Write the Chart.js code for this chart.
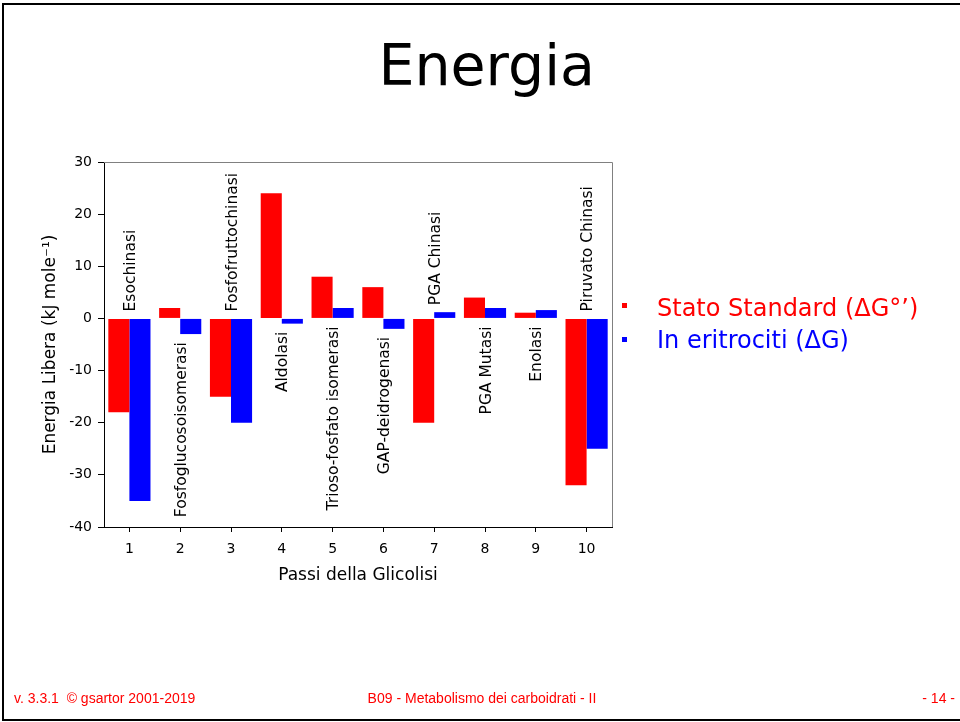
<!DOCTYPE html>
<html lang="it">
<head>
<meta charset="utf-8">
<title>Energia</title>
<script src="https://cdn.jsdelivr.net/npm/chart.js@4.4.1/dist/chart.umd.min.js"></script>
<style>
  html, body { margin: 0; padding: 0; background: #fff; }
  #slide { position: relative; width: 960px; height: 722px; overflow: hidden; background: #fff;
           font-family: "DejaVu Sans", Verdana, sans-serif; }
  #frame { position: absolute; left: 2px; top: 3px; width: 1000px; height: 714px; border: 2px solid #000; }
  #title { position: absolute; left: 486.7px; top: 37px; transform: translateX(-50%);
           font-size: 57px; line-height: 57px; color: #000; white-space: nowrap; }
  #chartBox { position: absolute; left: 0; top: 0; width: 960px; height: 722px; }
  .legend { position: absolute; left: 657px; font-size: 24px; line-height: 24px; white-space: nowrap; }
  .bullet { position: absolute; left: 622px; width: 5px; height: 5px; }
  .foot { position: absolute; top: 691px; font-family: "Liberation Sans", Arial, sans-serif;
          font-size: 14px; line-height: 14px; color: #f00; white-space: nowrap; }
</style>
</head>
<body>
<div id="slide">
  <div id="frame"></div>
  <div id="title">Energia</div>
  <div id="chartBox"><canvas id="chart" width="960" height="722"></canvas></div>

  <div class="bullet" style="top:303px;background:#f00"></div>
  <div class="legend" style="top:296px;color:#f00">Stato Standard (ΔG°’)</div>
  <div class="bullet" style="top:337px;background:#00f"></div>
  <div class="legend" style="top:328px;color:#00f">In eritrociti (ΔG)</div>

  <div class="foot" style="left:14px">v. 3.3.1&nbsp; © gsartor 2001-2019</div>
  <div class="foot" style="left:482px;transform:translateX(-50%)">B09 - Metabolismo dei carboidrati - II</div>
  <div class="foot" style="right:5px">- 14 -</div>
</div>

<script>
// Glycolysis steps and the enzyme that catalyses each one
const steps = ['1', '2', '3', '4', '5', '6', '7', '8', '9', '10'];
const enzymes = ['Esochinasi', 'Fosfoglucosoisomerasi', 'Fosfofruttochinasi', 'Aldolasi',
                 'Trioso-fosfato isomerasi', 'GAP-deidrogenasi', 'PGA Chinasi', 'PGA Mutasi',
                 'Enolasi', 'Piruvato Chinasi'];

// Free energy change of each step, kJ/mol
const standardDG    = [-18, 2, -15, 24, 8, 6, -20, 4, 1.1, -32];   // ΔG°'
const erythrocyteDG = [-35, -3, -20, -1, 2, -2, 1.2, 2, 1.6, -25]; // ΔG in red blood cells

// Energy axis range and tick step
const yMin = -40;
const yMax = 30;
const yStep = 10;

Chart.defaults.font.family = '"DejaVu Sans", Verdana, sans-serif';
Chart.defaults.color = '#000';

// Gray top and right edges of the plot box
const plotFrame = {
  id: 'plotFrame',
  afterDraw(chart) {
    const { ctx, chartArea: a } = chart;
    ctx.save();
    ctx.strokeStyle = '#808080';
    ctx.lineWidth = 1;
    ctx.beginPath();
    ctx.moveTo(a.left, Math.round(a.top) + 0.5);
    ctx.lineTo(Math.round(a.right) + 0.5, Math.round(a.top) + 0.5);
    ctx.lineTo(Math.round(a.right) + 0.5, a.bottom);
    ctx.stroke();
    ctx.restore();
  }
};

// Vertical enzyme names, placed on the side opposite to the standard-state bar
const enzymeLabels = {
  id: 'enzymeLabels',
  afterDatasetsDraw(chart) {
    const { ctx, scales: { x, y } } = chart;
    ctx.save();
    ctx.font = '15.5px "DejaVu Sans", Verdana, sans-serif';
    ctx.fillStyle = '#000';
    ctx.textBaseline = 'middle';
    enzymes.forEach((name, i) => {
      const px = x.getPixelForValue(i) + 1.5;
      const a = standardDG[i], b = erythrocyteDG[i];
      let py, align;
      if (a < 0) {
        py = y.getPixelForValue(Math.max(0, a, b)) - 7;
        align = 'left';
      } else {
        py = y.getPixelForValue(Math.min(0, a, b)) + 8;
        align = 'right';
      }
      ctx.save();
      ctx.translate(px, py);
      ctx.rotate(-Math.PI / 2);
      ctx.textAlign = align;
      ctx.fillText(name, 0, 0);
      ctx.restore();
    });
    ctx.restore();
  }
};

new Chart(document.getElementById('chart'), {
  type: 'bar',
  data: {
    labels: steps,
    datasets: [
      { label: 'Stato Standard (ΔG°’)', data: standardDG, backgroundColor: '#ff0000', borderWidth: 0 },
      { label: 'In eritrociti (ΔG)', data: erythrocyteDG, backgroundColor: '#0000ff', borderWidth: 0 }
    ]
  },
  options: {
    responsive: false,
    animation: false,
    events: [],
    layout: { padding: { left: 40, top: 162, right: 348, bottom: 135 } },
    datasets: { bar: { categoryPercentage: 0.83, barPercentage: 1.0 } },
    plugins: {
      legend: { display: false },
      tooltip: { enabled: false },
      title: { display: false }
    },
    scales: {
      x: {
        type: 'category',
        offset: true,
        grid: { display: true, drawOnChartArea: false, drawTicks: true, tickLength: 5,
                offset: false, color: '#000' },
        border: { display: true, color: '#000', width: 1 },
        ticks: { font: { size: 14 }, padding: 9, maxRotation: 0, color: '#000' },
        title: { display: true, text: 'Passi della Glicolisi', font: { size: 17 },
                 padding: { top: 0, bottom: 1 }, color: '#000' },
        afterFit(s) { s.height = 60; }
      },
      y: {
        min: yMin,
        max: yMax,
        ticks: { stepSize: yStep, font: { size: 14 }, padding: 6, color: '#000' },
        grid: { display: true, drawOnChartArea: false, drawTicks: true, tickLength: 6, color: '#000' },
        border: { display: true, color: '#000', width: 1 },
        title: { display: true, text: 'Energia Libera (kJ mole⁻¹)', font: { size: 17 },
                 padding: { top: 0, bottom: 0 }, color: '#000' },
        afterFit(s) { s.width = 64; }
      }
    }
  },
  plugins: [plotFrame, enzymeLabels]
});
</script>
</body>
</html>
